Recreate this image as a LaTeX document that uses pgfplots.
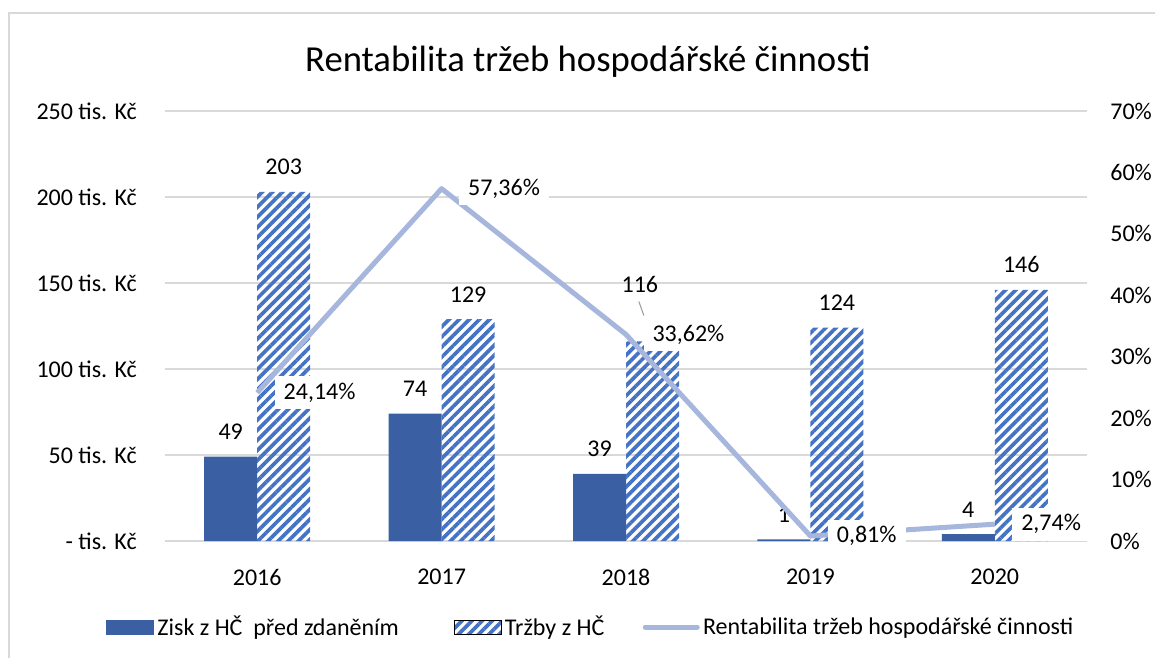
\documentclass[border=0pt]{standalone}
\usepackage{fontspec}
\setmainfont{Carlito}
\usepackage{pgfplots}
\usepackage{pgfplotstable}
\pgfplotsset{compat=1.18}
\usetikzlibrary{patterns.meta}
\definecolor{solidblue}{HTML}{3A5FA2}
\definecolor{hatchblue}{HTML}{4472C4}
\definecolor{lineblue}{HTML}{A7B6DC}
\definecolor{gridgray}{HTML}{D9D9D9}

\pgfplotstableread{
x zisk trzby rent
0 49 203 24.14
1 74 129 57.36
2 39 116 33.62
3 1 124 0.81
4 4 146 2.74
}\data

\newcommand{\lf}{\fontsize{14.4}{17}\selectfont}
\pgfplotsset{
  solidleg/.style={legend image code/.code={\fill[solidblue] (0pt,-4.2pt) rectangle (28.2pt,4.2pt);}},
  hatchleg/.style={legend image code/.code={\fill[pattern={Lines[angle=45,distance=4.3pt,line width=2.2pt]}, pattern color=hatchblue] (0pt,-4.2pt) rectangle (28.2pt,4.2pt);}},
  lineleg/.style={legend image code/.code={\draw[lineblue, line width=3pt, line cap=round] (1.5pt,0pt) -- (32.7pt,0pt);}},
}

\begin{document}
\begin{tikzpicture}
\useasboundingbox (0,0) rectangle (693pt,394.2pt);
\draw[gridgray, line width=1.2pt] (5.4pt,-5pt) -- (5.4pt,386.4pt) -- (700pt,386.4pt);
\node[font=\fontsize{22}{26}\selectfont] at (352.8pt,357pt) {Rentabilita tržeb hospodářské činnosti};

\begin{axis}[
  at={(99pt,69.6pt)}, anchor=south west, scale only axis,
  width=553.2pt, height=258pt,
  xmin=-0.5, xmax=4.5, ymin=0, ymax=250,
  xtick={0,1,2,3,4}, xticklabels={2016,2017,2018,2019,2020},
  ytick={0,50,100,150,200,250},
  yticklabels={- tis. Kč,50 tis. Kč,100 tis. Kč,150 tis. Kč,200 tis. Kč,250 tis. Kč},
  ymajorgrids, grid style={gridgray, line width=0.9pt},
  axis line style={draw=none}, major tick length=0pt,
  tick label style={font=\lf, inner sep=0pt},
  yticklabel style={xshift=-16.8pt},
  xticklabel style={yshift=-16.5pt},
  ybar=0pt, bar width=31.8pt,
  nodes near coords,
  every node near coord/.append style={font=\lf, text=black, anchor=base, yshift=10.2pt, inner sep=0pt},
  /pgf/number format/assume math mode=true,
  clip=false,
]
\addplot[fill=solidblue, draw=none] table[x=x,y=zisk]{\data};
\addplot[pattern={Lines[angle=45,distance=4.3pt,line width=2.2pt]}, pattern color=hatchblue, draw=none,
  coordinate style/.condition={\coordindex==2}{xshift=-7.6pt, yshift=19.2pt}] table[x=x,y=trzby]{\data};
\draw[gray!80, line width=0.6pt] ([xshift=7.7pt,yshift=24pt]axis cs:2,116) -- ([xshift=10.7pt,yshift=15.6pt]axis cs:2,116);
\end{axis}

\begin{axis}[
  at={(99pt,69.6pt)}, anchor=south west, scale only axis,
  width=553.2pt, height=258pt,
  xmin=-0.5, xmax=4.5, ymin=0, ymax=70,
  axis x line=none, axis y line*=right,
  ytick={0,10,20,30,40,50,60,70},
  yticklabels={0\%,10\%,20\%,30\%,40\%,50\%,60\%,70\%},
  axis line style={draw=none}, major tick length=0pt,
  tick label style={font=\lf, inner sep=0pt},
  yticklabel style={xshift=13.8pt},
  /pgf/number format/assume math mode=true,
  clip=false,
  legend style={at={(0.4626,-0.2)}, anchor=center, draw=none, fill=none, font=\lf,
    legend columns=3,
    /tikz/every even column/.append style={column sep=21pt},
    /tikz/every odd column/.append style={column sep=0pt}},
  legend cell align=left,
]
\addlegendimage{solidleg}
\addlegendentry{Zisk z HČ~~před zdaněním\hspace*{10pt}}
\addlegendimage{hatchleg}
\addlegendentry{Tržby z HČ}
\addplot[lineblue, line width=3pt, line join=round, mark=none, lineleg,
  nodes near coords={\pgfmathprintnumber[fixed,fixed zerofill,precision=2,use comma]{\pgfplotspointmeta}\%},
  every node near coord/.append style={font=\lf, text=black, anchor=west, fill=white, inner xsep=5.4pt, inner ysep=4pt, xshift=9pt}
] table[x=x,y=rent]{\data};
\addlegendentry{Rentabilita tržeb hospodářské činnosti}
\end{axis}
\end{tikzpicture}
\end{document}
